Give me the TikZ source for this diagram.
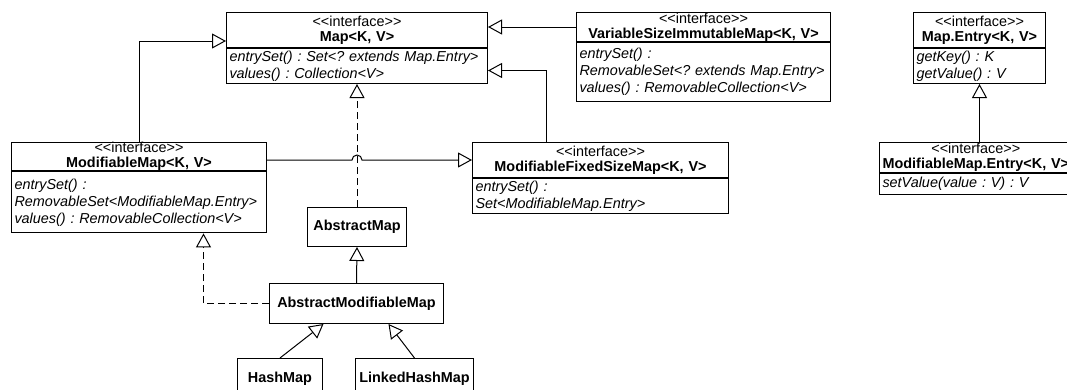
\documentclass[tikz,border=0pt]{standalone}
\usepackage{fontspec}
\setmainfont{Liberation Sans}[Ligatures=TeXOff]
\usetikzlibrary{arrows.meta,positioning}
\frenchspacing

\begin{document}
\begin{tikzpicture}[x=0.75pt, y=-0.75pt, line width=0.75pt,
    uml/.style={draw, rectangle, anchor=north west, inner xsep=2.25pt, inner ysep=0pt},
    head/.style 2 args={uml, align=center, text width=#1, minimum height=#2,
      font=\fontsize{10.8pt}{11.25pt}\selectfont},
    body/.style 2 args={uml, align=left, text width=#1, minimum height=#2,
      font=\fontsize{10.8pt}{12.75pt}\selectfont\itshape},
    cls/.style 2 args={uml, align=center, minimum width=#1, minimum height=#2,
      font=\fontsize{10.8pt}{12pt}\selectfont\bfseries},
    gen/.style={-{Triangle[open, length=10.5pt, width=11.25pt]}},
    real/.style={gen, dash pattern=on 5.25pt off 3pt}]
  \useasboundingbox (0,0) rectangle (1067,389);
  \clip (0,0) rectangle (1067,389);

  % Define interfaces
  \node[head={191.25pt}{26.25pt}] (map) at (226,12) {<<interface>>\\\textbf{Map<K, V>}};
  \node[body={191.25pt}{26.25pt}] (mapb) at (map.south west) {entrySet() : Set<? extends Map.Entry>\\values() : Collection<V>};

  \node[head={186pt}{21.75pt}] (vsim) at (576,12) {<<interface>>\\\textbf{VariableSizeImmutableMap<K, V>}};
  \node[body={186pt}{44.25pt}] (vsimb) at (vsim.south west) {entrySet() :\\RemovableSet<? extends Map.Entry>\\values() : RemovableCollection<V>};

  \node[head={94.5pt}{26.25pt}] (entry) at (913,12) {<<interface>>\\\textbf{Map.Entry<K, V>}};
  \node[body={94.5pt}{26.25pt}] (entryb) at (entry.south west) {getKey() : K\\getValue() : V};

  \node[head={140pt}{22.5pt}] (mentry) at (879,142) {<<interface>>\\\textbf{ModifiableMap.Entry<K, V>}};
  \node[body={140pt}{15.75pt}] (mentryb) at (mentry.south west) {setValue(value : V) : V};

  \node[head={186.75pt}{20.25pt}] (mmap) at (11,142) {<<interface>>\\\textbf{ModifiableMap<K, V>}};
  \node[body={186.75pt}{45.75pt}] (mmapb) at (mmap.south west) {entrySet() :\\RemovableSet<ModifiableMap.Entry>\\values() : RemovableCollection<V>};

  \node[head={187.5pt}{26.25pt}] (fixed) at (472,142) {<<interface>>\\\textbf{ModifiableFixedSizeMap<K, V>}};
  \node[body={187.5pt}{26.25pt}] (fixedb) at (fixed.south west) {entrySet() :\\Set<ModifiableMap.Entry>};

  % Define classes
  \node[cls={74.25pt}{29.25pt}] (amap) at (307,207) {AbstractMap};
  \node[cls={130.5pt}{30pt}] (ammap) at (269,283) {AbstractModifiableMap};
  \node[cls={63.75pt}{30pt}] (hash) at (237,358) {HashMap};
  \node[cls={88.5pt}{30pt}] (lhash) at (355,358) {LinkedHashMap};

  % Draw generalizations
  \coordinate (hop) at (amap.north |- fixed.west);
  \draw[gen] (mmap.north) |- ([yshift=5.25pt]map.south west);
  \draw[gen] (vsim.west) -- (vsim.west -| map.east);
  \draw[gen] ([xshift=-40.5pt]fixed.north) |- ([yshift=-3.375pt]mapb.east);
  \draw[gen] (mmap.east |- hop) -- ([xshift=-3.75pt]hop) arc[start angle=180, end angle=0, radius=3.75pt] -- (fixed.west);
  \draw[gen] (entryb.south |- mentry.north) -- (entryb.south);
  \draw[gen] (ammap.north) -- (amap.south);
  \draw[gen] (hash.north) -- ([xshift=-24.75pt]ammap.south);
  \draw[gen] (lhash.north) -- ([xshift=24pt]ammap.south);

  % Draw realizations
  \draw[real] (amap.north) -- (amap.north |- mapb.south);
  \draw[real] (ammap.west) -| ([xshift=48.375pt]mmapb.south);
\end{tikzpicture}
\end{document}
